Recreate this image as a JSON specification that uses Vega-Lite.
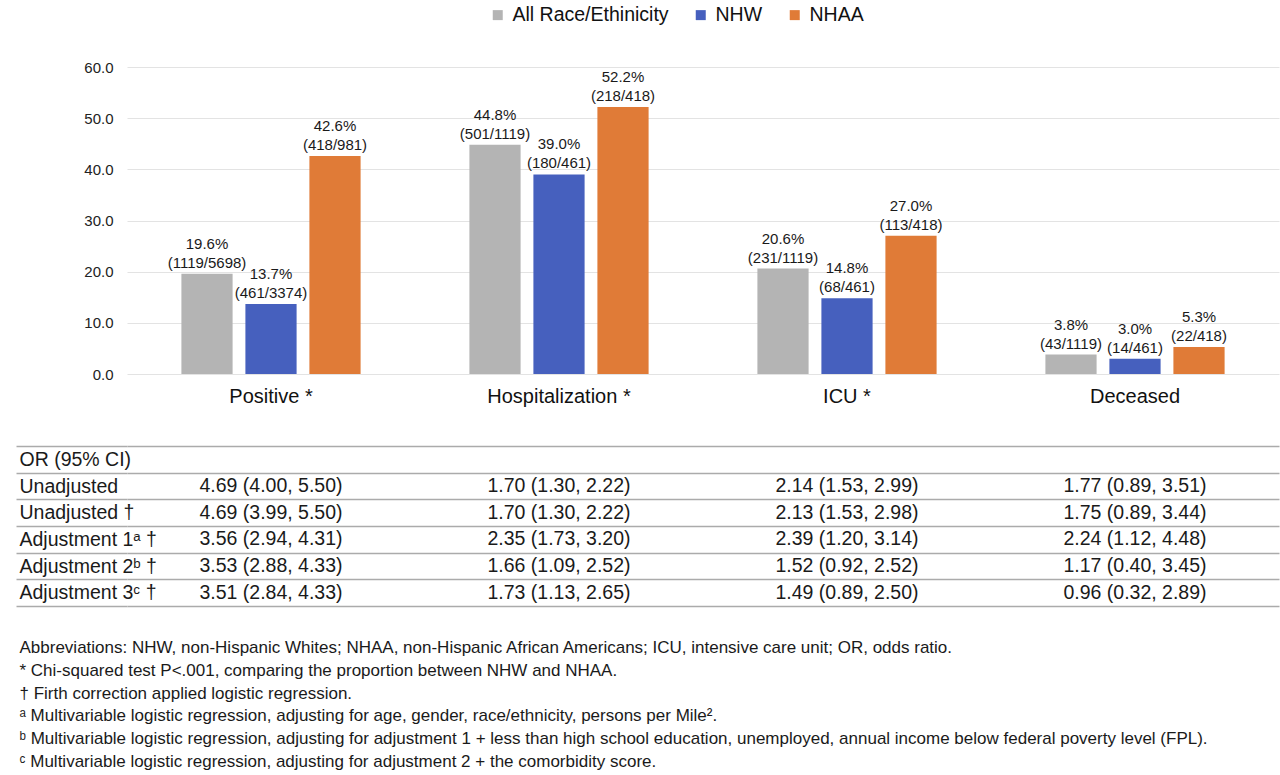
{
  "$schema": "https://vega.github.io/schema/vega-lite/v6.json",
  "background": "white",
  "padding": {"left": 15, "top": 5, "right": 2, "bottom": 0},
  "spacing": 29,
  "resolve": {"scale": {"x": "independent", "y": "independent"}},
  "config": {
    "view": {"stroke": null},
    "font": "Liberation Sans",
    "text": {"font": "Liberation Sans"},
    "axis": {"labelFont": "Liberation Sans", "titleFont": "Liberation Sans"},
    "legend": {"labelFont": "Liberation Sans"}
  },
  "vconcat": [
    {
      "width": 1152,
      "height": 307,
      "data": {
        "values": [
          {"outcome": "Positive", "group": "All Race/Ethinicity", "pct": 19.6, "label": "19.6%\n(1119/5698)"},
          {"outcome": "Positive", "group": "NHW", "pct": 13.7, "label": "13.7%\n(461/3374)"},
          {"outcome": "Positive", "group": "NHAA", "pct": 42.6, "label": "42.6%\n(418/981)"},
          {"outcome": "Hospitalization", "group": "All Race/Ethinicity", "pct": 44.8, "label": "44.8%\n(501/1119)"},
          {"outcome": "Hospitalization", "group": "NHW", "pct": 39.0, "label": "39.0%\n(180/461)"},
          {"outcome": "Hospitalization", "group": "NHAA", "pct": 52.2, "label": "52.2%\n(218/418)"},
          {"outcome": "ICU", "group": "All Race/Ethinicity", "pct": 20.6, "label": "20.6%\n(231/1119)"},
          {"outcome": "ICU", "group": "NHW", "pct": 14.8, "label": "14.8%\n(68/461)"},
          {"outcome": "ICU", "group": "NHAA", "pct": 27.0, "label": "27.0%\n(113/418)"},
          {"outcome": "Deceased", "group": "All Race/Ethinicity", "pct": 3.8, "label": "3.8%\n(43/1119)"},
          {"outcome": "Deceased", "group": "NHW", "pct": 3.0, "label": "3.0%\n(14/461)"},
          {"outcome": "Deceased", "group": "NHAA", "pct": 5.3, "label": "5.3%\n(22/418)"}
        ]
      },
      "encoding": {
        "x": {
          "field": "outcome", "type": "nominal",
          "sort": ["Positive", "Hospitalization", "ICU", "Deceased"],
          "scale": {"paddingInner": 0, "paddingOuter": 0},
          "axis": {
            "title": null, "labelAngle": 0, "ticks": false, "domain": false,
            "labelFontSize": 20, "labelPadding": 12, "labelColor": "#111111",
            "labelExpr": "datum.label == 'Deceased' ? datum.label : datum.label + ' *'"
          }
        },
        "xOffset": {
          "field": "group",
          "sort": ["All Race/Ethinicity", "NHW", "NHAA"],
          "scale": {"paddingInner": 0.2, "paddingOuter": 0.85}
        },
        "y": {
          "field": "pct", "type": "quantitative",
          "scale": {"domain": [0, 60]},
          "axis": {
            "title": null, "values": [0, 10, 20, 30, 40, 50, 60], "format": ".1f",
            "ticks": false, "domain": false, "labelFontSize": 15, "labelPadding": 14,
            "labelColor": "#222222", "gridColor": "#e3e3e3", "gridWidth": 1.2
          }
        }
      },
      "layer": [
        {
          "mark": {"type": "bar"},
          "encoding": {
            "color": {
              "field": "group", "type": "nominal",
              "scale": {"domain": ["All Race/Ethinicity", "NHW", "NHAA"], "range": ["#b4b4b4", "#4660be", "#e07b37"]},
              "legend": {
                "title": null, "orient": "none", "legendX": 361, "legendY": -62,
                "direction": "horizontal", "symbolType": "square", "symbolSize": 100,
                "symbolStrokeWidth": 0, "labelFontSize": 19.5, "labelColor": "#111111",
                "columnPadding": 22, "labelOffset": 5, "padding": 0, "labelLimit": 0
              }
            }
          }
        },
        {
          "mark": {"type": "text", "lineBreak": "\n", "baseline": "bottom", "dy": -22, "fontSize": 15, "lineHeight": 19, "color": "#1a1a1a"},
          "encoding": {"text": {"field": "label"}}
        }
      ]
    },
    {
      "width": 1152,
      "height": 161,
      "data": {
        "values": [
          {"row": "Unadjusted", "outcome": "Positive", "value": "4.69 (4.00, 5.50)"},
          {"row": "Unadjusted", "outcome": "Hospitalization", "value": "1.70 (1.30, 2.22)"},
          {"row": "Unadjusted", "outcome": "ICU", "value": "2.14 (1.53, 2.99)"},
          {"row": "Unadjusted", "outcome": "Deceased", "value": "1.77 (0.89, 3.51)"},
          {"row": "Unadjusted †", "outcome": "Positive", "value": "4.69 (3.99, 5.50)"},
          {"row": "Unadjusted †", "outcome": "Hospitalization", "value": "1.70 (1.30, 2.22)"},
          {"row": "Unadjusted †", "outcome": "ICU", "value": "2.13 (1.53, 2.98)"},
          {"row": "Unadjusted †", "outcome": "Deceased", "value": "1.75 (0.89, 3.44)"},
          {"row": "Adjustment 1ᵃ †", "outcome": "Positive", "value": "3.56 (2.94, 4.31)"},
          {"row": "Adjustment 1ᵃ †", "outcome": "Hospitalization", "value": "2.35 (1.73, 3.20)"},
          {"row": "Adjustment 1ᵃ †", "outcome": "ICU", "value": "2.39 (1.20, 3.14)"},
          {"row": "Adjustment 1ᵃ †", "outcome": "Deceased", "value": "2.24 (1.12, 4.48)"},
          {"row": "Adjustment 2ᵇ †", "outcome": "Positive", "value": "3.53 (2.88, 4.33)"},
          {"row": "Adjustment 2ᵇ †", "outcome": "Hospitalization", "value": "1.66 (1.09, 2.52)"},
          {"row": "Adjustment 2ᵇ †", "outcome": "ICU", "value": "1.52 (0.92, 2.52)"},
          {"row": "Adjustment 2ᵇ †", "outcome": "Deceased", "value": "1.17 (0.40, 3.45)"},
          {"row": "Adjustment 3ᶜ †", "outcome": "Positive", "value": "3.51 (2.84, 4.33)"},
          {"row": "Adjustment 3ᶜ †", "outcome": "Hospitalization", "value": "1.73 (1.13, 2.65)"},
          {"row": "Adjustment 3ᶜ †", "outcome": "ICU", "value": "1.49 (0.89, 2.50)"},
          {"row": "Adjustment 3ᶜ †", "outcome": "Deceased", "value": "0.96 (0.32, 2.89)"}
        ]
      },
      "mark": {"type": "text", "fontSize": 19.5, "color": "#1a1a1a"},
      "encoding": {
        "x": {
          "field": "outcome", "type": "nominal",
          "sort": ["Positive", "Hospitalization", "ICU", "Deceased"],
          "bandPosition": 0.55,
          "scale": {"paddingInner": 0, "paddingOuter": 0},
          "axis": null
        },
        "y": {
          "field": "row", "type": "nominal",
          "scale": {
            "domain": ["OR (95% CI)", "Unadjusted", "Unadjusted †", "Adjustment 1ᵃ †", "Adjustment 2ᵇ †", "Adjustment 3ᶜ †"],
            "paddingInner": 0, "paddingOuter": 0.019, "align": 1
          },
          "axis": {
            "title": null, "orient": "left", "domain": false,
            "ticks": true, "tickBand": "extent", "tickSize": 111, "tickColor": "#ababab", "tickWidth": 1.5,
            "grid": true, "gridColor": "#ababab", "gridWidth": 1.5,
            "labelAlign": "left", "labelPadding": -3, "labelFontSize": 19.5,
            "labelColor": "#1a1a1a", "labelLimit": 0
          }
        },
        "text": {"field": "value"}
      }
    },
    {
      "width": 1152,
      "height": 137,
      "data": {
        "values": [
          {"note": "Abbreviations: NHW, non-Hispanic Whites; NHAA, non-Hispanic African Americans; ICU, intensive care unit; OR, odds ratio."},
          {"note": "* Chi-squared test P<.001, comparing the proportion between NHW and NHAA."},
          {"note": "† Firth correction applied logistic regression."},
          {"note": "ᵃ Multivariable logistic regression, adjusting for age, gender, race/ethnicity, persons per Mile²."},
          {"note": "ᵇ Multivariable logistic regression, adjusting for adjustment 1 + less than high school education, unemployed, annual income below federal poverty level (FPL)."},
          {"note": "ᶜ Multivariable logistic regression, adjusting for adjustment 2 + the comorbidity score."}
        ]
      },
      "mark": {"type": "point", "opacity": 0},
      "encoding": {
        "y": {
          "field": "note", "type": "nominal", "sort": null,
          "scale": {"paddingInner": 0, "paddingOuter": 0},
          "axis": {
            "title": null, "domain": false, "ticks": false, "grid": false,
            "labelAlign": "left", "labelPadding": 108, "labelFontSize": 17,
            "labelColor": "#1a1a1a", "labelLimit": 0
          }
        }
      }
    }
  ]
}
